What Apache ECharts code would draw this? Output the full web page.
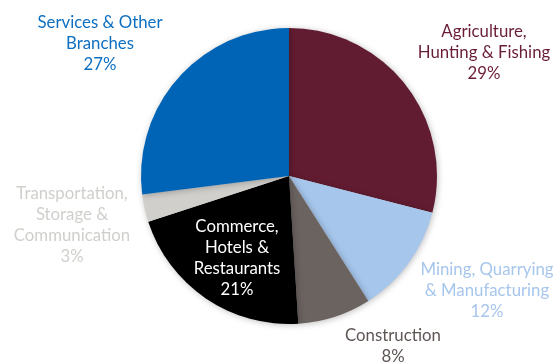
<!DOCTYPE html>
<html>
<head>
<meta charset="utf-8">
<script src="https://cdn.jsdelivr.net/npm/echarts@6/dist/echarts.min.js"></script>
<style>
  html, body { margin: 0; padding: 0; background: #ffffff; }
  #chart { width: 560px; height: 363px; }
</style>
</head>
<body>
<div id="chart"></div>
<script>
// Sector shares (%), clockwise from 12 o'clock
const categories = [
  'Agriculture,\nHunting & Fishing',
  'Mining, Quarrying\n& Manufacturing',
  'Construction',
  'Commerce,\nHotels &\nRestaurants',
  'Transportation,\nStorage &\nCommunication',
  'Services & Other\nBranches'
];
const shares = [29, 12, 8, 21, 3, 27];

// Slice fills and label colours
const sliceColors = ['#621C31', '#A6C6EC', '#6B6360', '#000000', '#D0CFCB', '#0064B6'];
const labelColors = ['#6A1E36', '#A6C6EC', '#5E5654', '#FFFFFF', '#D0CFCB', '#0E6FC1'];
// Label block centres in pixels
const labelPos = [[484, 53], [487, 291], [393, 346], [237, 258], [72, 225], [100, 44]];

const chart = echarts.init(document.getElementById('chart'), null, { renderer: 'canvas' });

chart.setOption({
  animation: false,
  backgroundColor: '#ffffff',
  series: [{
    type: 'pie',
    center: [289, 176],
    radius: 148,
    startAngle: 90,
    clockwise: true,
    silent: true,
    data: categories.map((name, i) => ({
      name: name,
      value: shares[i],
      itemStyle: { color: sliceColors[i] },
      label: { color: labelColors[i] }
    })),
    itemStyle: {
      borderWidth: 0,
      shadowBlur: 6,
      shadowColor: 'rgba(0,0,0,0.25)',
      shadowOffsetX: 1,
      shadowOffsetY: 1
    },
    label: {
      show: true,
      position: 'inside',
      formatter: '{b}\n{c}%',
      fontFamily: 'Lato',
      fontSize: 16.8,
      lineHeight: 21,
      align: 'center',
      overflow: 'none'
    },
    labelLine: { show: false },
    labelLayout: function (params) {
      const p = labelPos[params.dataIndex];
      return { x: p[0], y: p[1], align: 'center', verticalAlign: 'middle' };
    }
  }]
});
</script>
</body>
</html>
